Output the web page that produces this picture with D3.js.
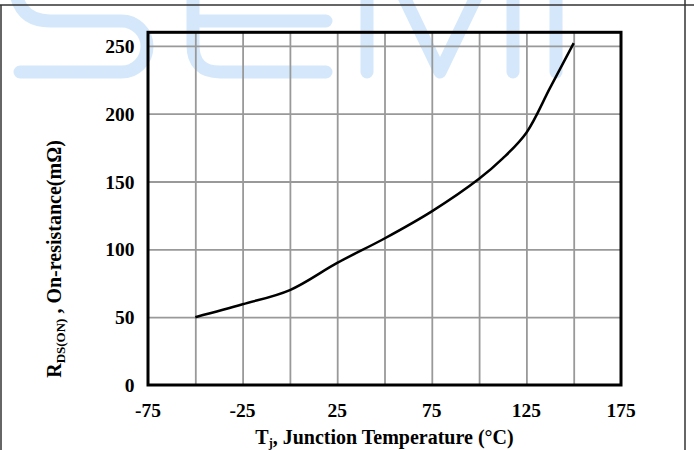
<!DOCTYPE html>
<html>
<head>
<meta charset="utf-8">
<script src="https://cdn.jsdelivr.net/npm/d3@7"></script>
<style>
	html, body { margin: 0; padding: 0; background: #fff; }
	svg { display: block; }
	.tick_txt { font-family: "Liberation Serif", "Times New Roman", serif; font-weight: bold; font-size: 19.5px; fill: #000; }
	.axis_title { font-family: "Liberation Serif", "Times New Roman", serif; font-weight: bold; font-size: 20px; fill: #000; }
</style>
</head>
<body>
<div id="chart"></div>
<script>
// data
const tempGrid = [-75, -50, -25, 0, 25, 50, 75, 100, 125, 150, 175];
const tempLabels = [-75, -25, 25, 75, 125, 175];
const rdsGrid = [0, 50, 100, 150, 200, 250];
const temps = [-50, -25, 0, 25, 50, 75, 100, 112.5, 125, 137.5, 150];
const rdsOn = [50, 59.5, 70, 90, 108, 128, 152, 167, 186, 219, 252];

const options = {
	w: 694,
	h: 450,
	left: 148,
	right: 621,
	top: 32.3,
	bottom: 385
};

const svg = d3.select('#chart').append('svg')
	.attr('width', options.w)
	.attr('height', options.h);

// set the ranges
const x = d3.scaleLinear().domain([-75, 175]).range([options.left, options.right]);
const y = d3.scaleLinear().domain([0, 260]).range([options.bottom, options.top]);

// watermark (decoration)
const wm = svg.append('g')
	.attr('fill', 'none')
	.attr('stroke', '#d5e8fb')
	.attr('stroke-width', 13)
	.attr('stroke-linecap', 'round')
	.attr('stroke-linejoin', 'round');
[
	'M14,-25 C14,5 25,21 50,21 L121.5,21 A25.5,25.5 0 0 1 121.5,72 L20,72',
	'M193,-40 L193,45 Q193,72 220,72 L326,72 M193,21 L326,21',
	'M367,72 L367,-80 L440,72 L513,-80 L513,72',
	'M556,-80 L556,72'
].forEach(d => wm.append('path').attr('d', d));

// outer frame
const frame = svg.append('g').attr('stroke', '#333').attr('stroke-width', 1.5);
frame.append('line').attr('x1', 0).attr('x2', options.w).attr('y1', 5).attr('y2', 5);
frame.append('line').attr('x1', 1).attr('x2', 1).attr('y1', 5).attr('y2', options.h);
frame.append('line').attr('x1', 685).attr('x2', 685).attr('y1', 0).attr('y2', options.h);

// grid
const gridX = d3.axisBottom(x)
	.tickValues(tempGrid.slice(1, -1))
	.tickSize(-(options.bottom - options.top))
	.tickFormat('');
const gridY = d3.axisLeft(y)
	.tickValues(rdsGrid.slice(1))
	.tickSize(-(options.right - options.left))
	.tickFormat('');

const customGrid = g => {
	g.select('.domain').remove();
	g.selectAll('.tick line').attr('stroke', '#999').attr('stroke-width', 1.8);
};

svg.append('g')
	.attr('transform', 'translate(0,' + options.bottom + ')')
	.call(gridX)
	.call(customGrid);

svg.append('g')
	.attr('transform', 'translate(' + options.left + ',0)')
	.call(gridY)
	.call(customGrid);

// curve
const line = d3.line()
	.curve(d3.curveCatmullRom.alpha(0.5))
	.x(d => x(d[0]))
	.y(d => y(d[1]));

svg.append('path')
	.datum(temps.map((t, i) => [t, rdsOn[i]]))
	.attr('d', line)
	.attr('fill', 'none')
	.attr('stroke', '#000')
	.attr('stroke-width', 2.5);

// plot frame
svg.append('rect')
	.attr('x', options.left)
	.attr('y', options.top)
	.attr('width', options.right - options.left)
	.attr('height', options.bottom - options.top)
	.attr('fill', 'none')
	.attr('stroke', '#000')
	.attr('stroke-width', 3);

// tick labels
svg.append('g')
	.selectAll('text')
	.data(rdsGrid)
	.enter()
	.append('text')
	.classed('tick_txt', true)
	.attr('x', options.left - 13.5)
	.attr('y', d => y(d))
	.attr('dy', '0.36em')
	.attr('text-anchor', 'end')
	.text(d => d);

svg.append('g')
	.selectAll('text')
	.data(tempLabels)
	.enter()
	.append('text')
	.classed('tick_txt', true)
	.attr('x', d => x(d))
	.attr('y', 417)
	.attr('text-anchor', 'middle')
	.text(d => d);

// axis titles
const xt = svg.append('text')
	.classed('axis_title', true)
	.attr('x', (options.left + options.right) / 2)
	.attr('y', 444)
	.attr('text-anchor', 'middle');
xt.append('tspan').text('T');
xt.append('tspan').attr('font-size', '12px').attr('dy', 3).text('j');
xt.append('tspan').attr('dy', -3).text(', Junction Temperature (°C)');

const yt = svg.append('text')
	.classed('axis_title', true)
	.attr('transform', 'translate(61,259) rotate(-90)')
	.attr('text-anchor', 'middle');
yt.append('tspan').text('R');
yt.append('tspan').attr('font-size', '13px').attr('dy', 4).text('DS(ON)');
yt.append('tspan').attr('dy', -4).text(' , On-resistance(mΩ)');
</script>
</body>
</html>
